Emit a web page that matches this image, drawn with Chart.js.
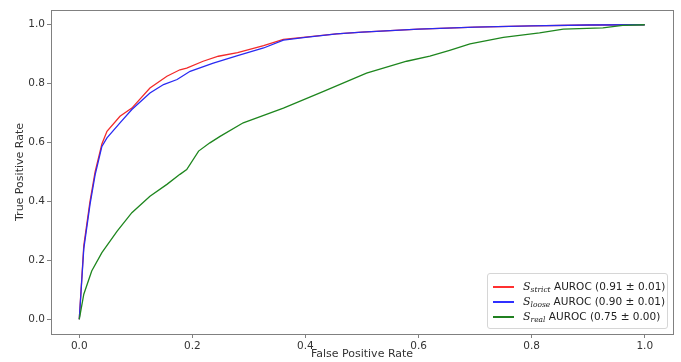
<!DOCTYPE html>
<html>
<head>
<meta charset="utf-8">
<script src="https://cdn.jsdelivr.net/npm/chart.js@4.4.0/dist/chart.umd.min.js"></script>
<style>
    body { margin: 0; background: #fff; }
    #wrap { position: relative; width: 681px; height: 362px; }
    #legend {
        position: absolute; left: 487px; top: 273px; width: 181px; height: 56px;
        border: 1px solid #d6d6d6; border-radius: 3px; background: rgba(255,255,255,0.85);
        font: 10.5px "DejaVu Sans", sans-serif; color: #222; box-sizing: border-box;
    }
    .row { position: absolute; left: 5px; height: 14px; line-height: 14px; white-space: nowrap; }
    .row span.ln { display: inline-block; width: 21px; height: 1.5px; vertical-align: middle; margin-right: 9px; }
    .row i { font-family: "DejaVu Serif", serif; font-size: 11px; }
    .row sub { font-family: "DejaVu Serif", serif; font-style: italic; font-size: 7.5px; vertical-align: -2px; }
</style>
</head>
<body>
<div id="wrap">
    <canvas id="roc" width="681" height="362"></canvas>
    <div id="legend">
        <div class="row" style="top:5px"><span class="ln" style="background:#ff3030"></span><i>S</i><sub>strict</sub> AUROC (0.91 ± 0.01)</div>
        <div class="row" style="top:20px"><span class="ln" style="background:#3030ff"></span><i>S</i><sub>loose</sub> AUROC (0.90 ± 0.01)</div>
        <div class="row" style="top:35px"><span class="ln" style="background:#208020"></span><i>S</i><sub>real</sub> AUROC (0.75 ± 0.00)</div>
    </div>
</div>
<script>
// ROC curves
const fpr_strict = [0, 0.008, 0.019, 0.028, 0.040, 0.049, 0.072, 0.093, 0.125, 0.155, 0.178, 0.190, 0.219, 0.246, 0.28, 0.326, 0.361, 0.4, 0.455, 0.5, 0.6, 0.7, 0.8, 0.9, 1.0];
const tpr_strict = [0, 0.25, 0.40, 0.50, 0.595, 0.638, 0.689, 0.717, 0.785, 0.825, 0.847, 0.853, 0.876, 0.893, 0.905, 0.929, 0.95, 0.958, 0.969, 0.975, 0.985, 0.992, 0.996, 0.999, 1.0];

const fpr_loose = [0, 0.008, 0.019, 0.028, 0.040, 0.049, 0.072, 0.093, 0.125, 0.149, 0.173, 0.196, 0.237, 0.28, 0.326, 0.361, 0.4, 0.455, 0.5, 0.6, 0.7, 0.8, 0.9, 1.0];
const tpr_loose = [0, 0.24, 0.39, 0.49, 0.587, 0.616, 0.667, 0.712, 0.768, 0.797, 0.814, 0.842, 0.870, 0.895, 0.921, 0.948, 0.957, 0.969, 0.975, 0.985, 0.992, 0.996, 0.999, 1.0];

const fpr_real = [0, 0.008, 0.022, 0.040, 0.067, 0.093, 0.125, 0.155, 0.178, 0.190, 0.211, 0.231, 0.249, 0.290, 0.361, 0.432, 0.508, 0.579, 0.620, 0.655, 0.691, 0.750, 0.814, 0.856, 0.926, 0.961, 1.0];
const tpr_real = [0, 0.085, 0.164, 0.226, 0.299, 0.362, 0.418, 0.458, 0.492, 0.508, 0.571, 0.599, 0.621, 0.667, 0.717, 0.774, 0.836, 0.876, 0.893, 0.913, 0.935, 0.957, 0.972, 0.985, 0.989, 0.998, 1.0];

const tick_vals = [0, 0.2, 0.4, 0.6, 0.8, 1.0];

function pts(xs, ys) {
    return xs.map((x, i) => ({x, y: ys[i]}));
}

function series(label, xs, ys, color, order) {
    return {label, data: pts(xs, ys), borderColor: color, borderWidth: 1.3,
            pointRadius: 0, tension: 0, fill: false, order};
}

// matplotlib draws a full box round the axes
const box = {
    id: "box",
    afterDraw(chart) {
        const {ctx, chartArea: a} = chart;
        ctx.save();
        ctx.strokeStyle = "#808080";
        ctx.lineWidth = 1;
        ctx.strokeRect(a.left + 0.5, a.top + 0.5, a.right - a.left, a.bottom - a.top);
        ctx.restore();
    }
};

const tick_font = {family: "DejaVu Sans", size: 10.5};
const title_font = {family: "DejaVu Sans", size: 11};

function axis(title, afterFit) {
    return {
        type: "linear", min: -0.05, max: 1.05,
        afterBuildTicks: s => { s.ticks = tick_vals.map(value => ({value})); },
        afterFit,
        ticks: {font: tick_font, color: "#333", padding: 2, callback: v => v.toFixed(1), maxRotation: 0},
        grid: {drawOnChartArea: false, tickLength: 4, color: "#808080"},
        border: {display: false},
        title: {display: true, text: title, font: title_font, color: "#333", padding: 1}
    };
}

new Chart(document.querySelector("#roc"), {
    type: "line",
    data: {
        datasets: [
            series("S_strict", fpr_strict, tpr_strict, "#f22a2a", 3),
            series("S_loose", fpr_loose, tpr_loose, "#2a2af2", 2),
            series("S_real", fpr_real, tpr_real, "#1e861e", 1)
        ]
    },
    options: {
        responsive: false,
        animation: false,
        layout: {padding: {left: 13, top: 10, right: 8, bottom: 0}},
        plugins: {legend: {display: false}, tooltip: {enabled: false}},
        scales: {
            x: axis("False Positive Rate", s => { s.height = 28; }),
            y: axis("True Positive Rate", s => { s.width = 38; })
        }
    },
    plugins: [box]
});
</script>
</body>
</html>
